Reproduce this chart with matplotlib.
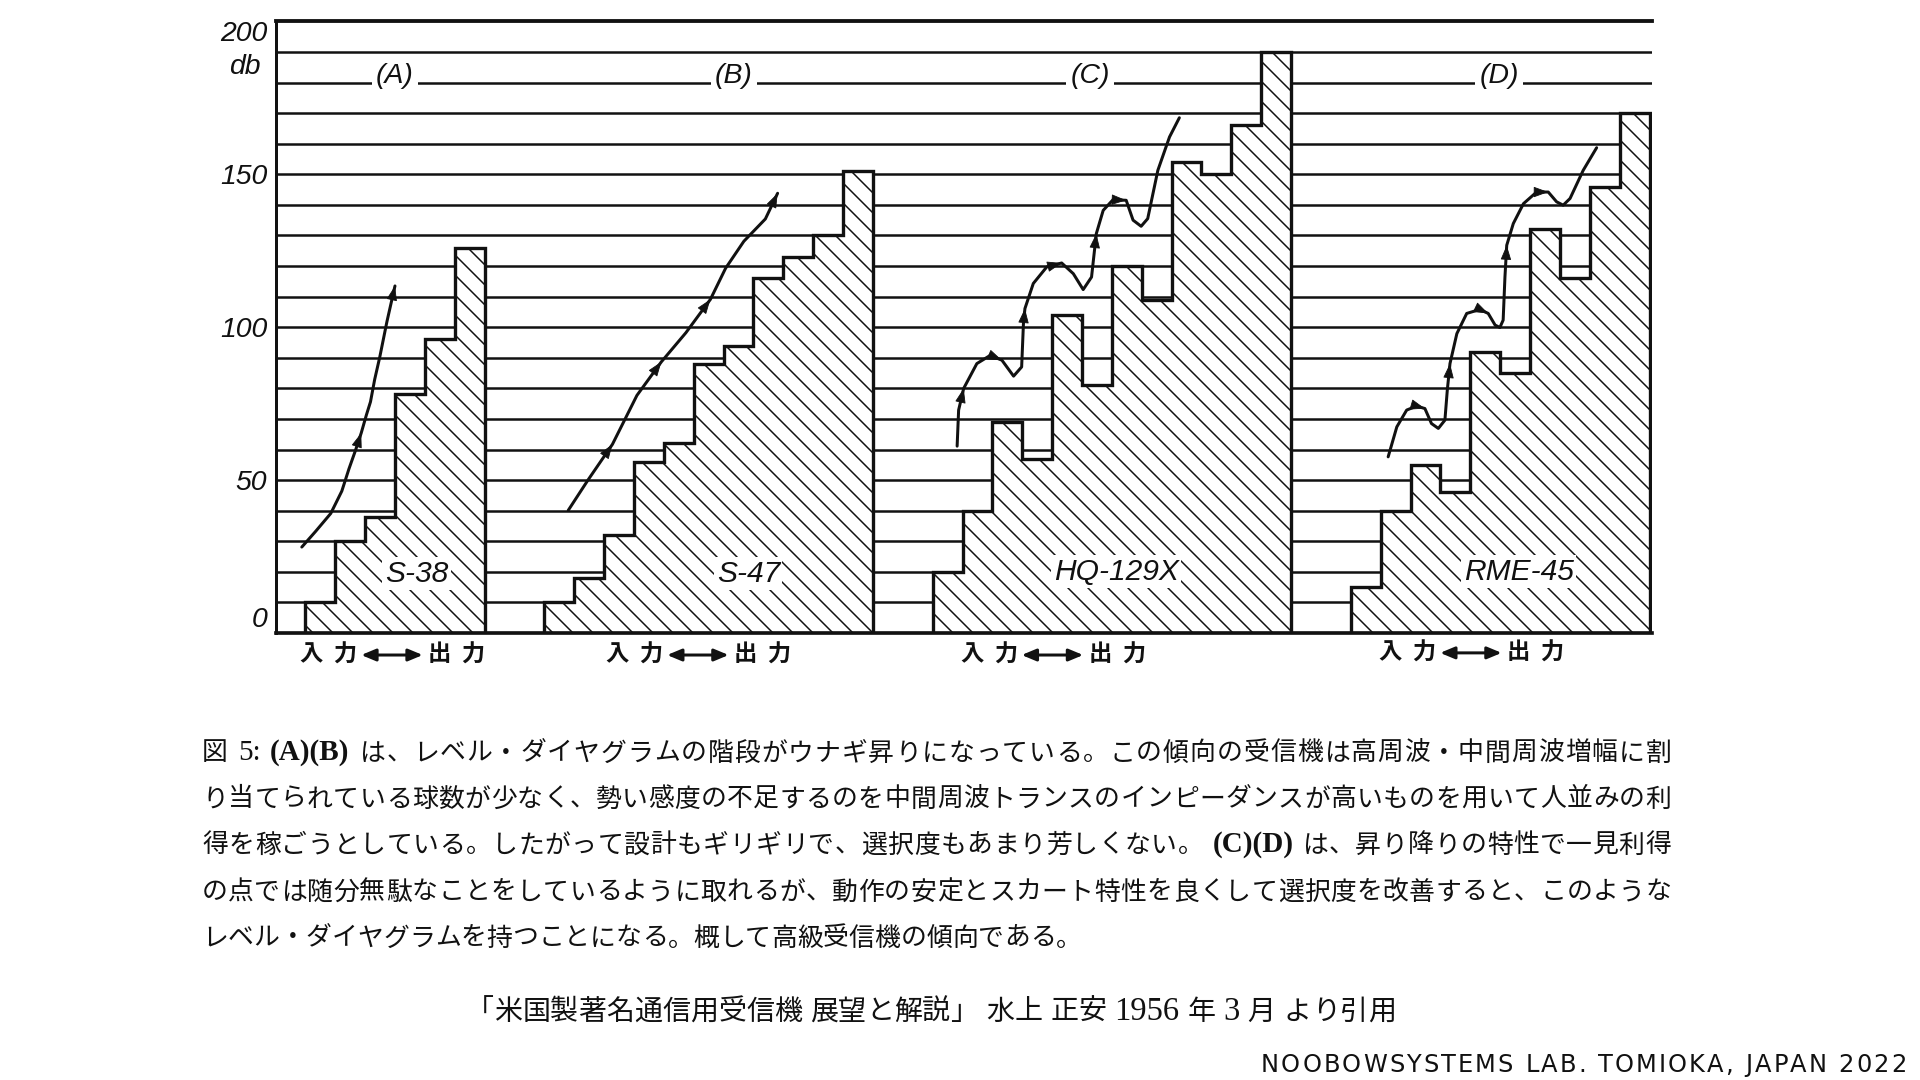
import matplotlib
matplotlib.use('Agg')
import matplotlib.pyplot as plt

plt.rcParams['font.family'] = ['Noto Sans CJK JP', 'DejaVu Sans']
plt.rcParams['hatch.linewidth'] = 0.9

# 段の境界 (段数) と レベル (dB)
a_edges = [1, 2, 3, 4, 5, 6, 7]
a_db = [10, 30, 38, 78, 96, 126]
b_edges = [9, 10, 11, 12, 13, 14, 15, 16, 17, 18, 19, 20]
b_db = [10, 18, 32, 56, 62, 88, 94, 116, 123, 130, 151]
c_edges = [22, 23, 24, 25, 26, 27, 28, 29, 30, 31, 32, 33, 34]
c_db = [20, 40, 69, 57, 104, 81, 120, 109, 154, 150, 166, 190]
d_edges = [36, 37, 38, 39, 40, 41, 42, 43, 44, 45, 46]
d_db = [15, 40, 55, 46, 92, 85, 132, 116, 146, 170]

# 矢印付きの曲線 (読み取り値)
a_cx = [0.88, 1.34, 1.85, 2.22, 2.46, 2.67, 2.87, 3.04, 3.18, 3.32, 3.49, 3.73, 4.0]
a_cy = [28.1, 33.2, 39.1, 46.4, 53.7, 59.5, 65.4, 71.2, 75.6, 82.9, 90.2, 101.8, 113.5]
a_arr = [6, 12]
b_cx = [9.8, 10.46, 11.28, 12.1, 12.92, 13.74, 14.56, 15.07, 15.68, 16.4, 16.81]
b_cy = [40.1, 50, 61.7, 77.7, 88.7, 98.2, 109.1, 119.3, 128.1, 135.4, 143.8]
b_arr = [2, 4, 6, 10]
c_cx = [22.82, 22.87, 23.04, 23.48, 23.93, 24.32, 24.71, 24.98, 25.04, 25.09, 25.37, 25.82, 26.32,
        26.71, 27.04, 27.32, 27.48, 27.71, 28.04, 28.48, 28.71, 28.98, 29.2, 29.54, 29.93, 30.26]
c_cy = [61.1, 72.9, 80, 88.1, 90.8, 89.2, 84, 87, 101.2, 106.1, 114.3, 119.7, 121,
        117.5, 112.3, 116.4, 130.6, 138.2, 141.7, 141.5, 135, 133, 135.5, 151.3, 162.2, 168.5]
c_arr = [2, 5, 9, 12, 16, 19]
d_cx = [37.25, 37.54, 37.87, 38.2, 38.48, 38.7, 38.93, 39.15, 39.23, 39.32, 39.55, 39.88, 40.32, 40.6,
        40.83, 40.99, 41.1, 41.16, 41.22, 41.44, 41.78, 42.22, 42.61, 42.89, 43.11, 43.34, 43.78, 44.23]
d_cy = [57.6, 67.4, 72.9, 74.2, 73.4, 68.5, 66.9, 69.6, 79.4, 88.1, 97.9, 104.5, 105.8, 104.5,
        100.7, 99.9, 102.3, 116.4, 126.8, 133.9, 140.4, 144.2, 144.2, 141, 139.9, 142.1, 151.3, 158.7]
d_arr = [4, 9, 13, 18, 22]

panel_names = ['(A)', '(B)', '(C)', '(D)']
panel_x = [4.0, 15.34, 27.28, 40.96]
models = ['S-38', 'S-47', 'HQ-129X', 'RME-45']
model_x = [4.72, 15.83, 28.15, 41.62]
model_y = [19.4, 19.4, 20, 20]
io_x = [3.9, 14.14, 26.01, 40.02]
io_y = [-7.2, -7.2, -7.2, -6.5]
yticks = [0, 50, 100, 150, 200]

caption = [
    [('図', 'jp'), ('sp',), ('5:', 'serif'), ('sp',), ('(A)(B)', 'bold'), ('sp',),
     ('は、レベル・ダイヤグラムの階段がウナギ昇りになっている。この傾向の受信機は高周波・中間周波増幅に割', 'jp')],
    [('り当てられている球数が少なく、勢い感度の不足するのを中間周波トランスのインピーダンスが高いものを用いて人並みの利', 'jp')],
    [('得を稼ごうとしている。したがって設計もギリギリで、選択度もあまり芳しくない。', 'jp'), ('sp',),
     ('(C)(D)', 'bold'), ('sp',), ('は、昇り降りの特性で一見利得', 'jp')],
    [('の点では随分無駄なことをしているように取れるが、動作の安定とスカート特性を良くして選択度を改善すると、このような', 'jp')],
    [('レベル・ダイヤグラムを持つことになる。概して高級受信機の傾向である。', 'jp')],
]
source = [('「米国製著名通信用受信機', 'jp2'), ('sp',), ('展望と解説」', 'jp2'), ('sp',), ('水上', 'jp2'), ('sp',),
          ('正安', 'jp2'), ('sp',), ('1956', 'serif2'), ('sp',), ('年', 'jp2'), ('sp',), ('3', 'serif2'), ('sp',),
          ('月', 'jp2'), ('sp',), ('より引用', 'jp2')]
footer = 'NOOBOWSYSTEMS LAB. TOMIOKA, JAPAN 2022'

fig = plt.figure(figsize=(16, 9), dpi=120)
ax = fig.add_axes([275.5 / 1920, 447 / 1080, 1377 / 1920, 611.6 / 1080])

# 横線
for v in range(10, 200, 10):
    ax.axhline(v, color='#111', lw=1.5, zorder=1)
ax.axhline(200, color='#111', lw=2.3, zorder=1, clip_on=False)

# 階段 (ハッチング)
for edges, vals in [(a_edges, a_db), (b_edges, b_db), (c_edges, c_db), (d_edges, d_db)]:
    ax.stairs(vals, edges, baseline=0, fill=True, facecolor='white', edgecolor='#111',
              hatch='\\\\', lw=2.0, zorder=2)

# 曲線と矢印
for cx, cy, arr in [(a_cx, a_cy, a_arr), (b_cx, b_cy, b_arr), (c_cx, c_cy, c_arr), (d_cx, d_cy, d_arr)]:
    ax.plot(cx, cy, color='#111', lw=1.8, zorder=4, solid_capstyle='round', solid_joinstyle='round')
    for i in arr:
        ax.annotate('', xy=(cx[i], cy[i]), xytext=(cx[i - 1], cy[i - 1]),
                    arrowprops=dict(arrowstyle='-|>,head_length=0.55,head_width=0.2', color='#111',
                                    lw=0.5, shrinkA=0, shrinkB=0, mutation_scale=14), zorder=5)

lab_font = dict(family='Liberation Sans', style='italic', color='#111')
for name, x in zip(panel_names, panel_x):
    ax.text(x, 180, name, ha='center', va='baseline', fontsize=17, zorder=3,
            bbox=dict(boxstyle='square,pad=0.15', fc='white', ec='none'), **lab_font)
for name, x, y in zip(models, model_x, model_y):
    ax.text(x, y, name, ha='center', va='center', fontsize=18, zorder=3,
            bbox=dict(boxstyle='square,pad=0.08', fc='white', ec='none'), **lab_font)

# 入力 ←→ 出力
for x, y in zip(io_x, io_y):
    ax.annotate('', xy=(x + 1.03, y), xytext=(x - 1.03, y), annotation_clip=False,
                arrowprops=dict(arrowstyle='<|-|>,head_length=0.6,head_width=0.25', color='#111',
                                lw=1.8, shrinkA=0, shrinkB=0, mutation_scale=12))
    ax.text(x - 1.15, y, '入  力', ha='right', va='center', fontsize=14, weight='bold',
            color='#111', clip_on=False)
    ax.text(x + 1.22, y, '出  力', ha='left', va='center', fontsize=14, weight='bold',
            color='#111', clip_on=False)

ax.set_xlim(0, 46.1)
ax.set_ylim(0, 200)
ax.set_xticks([])
ax.set_yticks(yticks)
ax.set_yticklabels([str(v) for v in yticks], fontsize=17, **lab_font)
ax.tick_params(axis='y', length=0, pad=5)
tl = ax.get_yticklabels()
tl[0].set_va('bottom')
tl[-1].set_va('top')
ax.annotate('db', xy=(0, 185), xycoords=('axes fraction', 'data'), xytext=(-9, 0),
            textcoords='offset points', ha='right', va='center', fontsize=17, **lab_font)
for s in ['top', 'right']:
    ax.spines[s].set_visible(False)
ax.spines['left'].set_linewidth(1.8)
ax.spines['bottom'].set_linewidth(2.2)
ax.spines['left'].set_color('#111')
ax.spines['bottom'].set_color('#111')

# キャプション
STY = {
    'jp': dict(family=['Noto Sans CJK JP', 'DejaVu Sans'], fontsize=15.5, color='#111'),
    'serif': dict(family='Liberation Serif', fontsize=17.5, color='#111'),
    'bold': dict(family='Liberation Serif', fontsize=17.5, weight='bold', color='#111'),
    'jp2': dict(family=['Noto Sans CJK JP', 'DejaVu Sans'], fontsize=16.8, color='#111'),
    'serif2': dict(family='Liberation Serif', fontsize=19.5, color='#111'),
    'foot': dict(family='DejaVu Sans', fontsize=14.5, color='#111'),
}
SP = 8 / 1920
renderer = fig.canvas.get_renderer()


def put_tokens(segs, x, y, width=None, ha='left'):
    toks = []
    for seg in segs:
        if seg[0] == 'sp':
            toks.append(None)
        elif seg[1] in ('jp', 'jp2', 'foot'):
            toks += [(ch, seg[1]) for ch in seg[0]]
        else:
            toks.append(seg)
    objs, ws = [], []
    for t in toks:
        if t is None:
            objs.append(None)
            ws.append(SP)
        else:
            o = fig.text(0, y, t[0], va='center', **STY[t[1]])
            objs.append(o)
            ws.append(o.get_window_extent(renderer).width / fig.bbox.width)
    gap = 0
    if width is not None:
        gap = (width - sum(ws)) / (len(ws) - 1)
    total = sum(ws) + gap * (len(ws) - 1)
    x0 = x - total / 2 if ha == 'center' else x
    for o, w in zip(objs, ws):
        if o is not None:
            o.set_x(x0)
        x0 += w + gap


line_y = [753, 799, 845, 892, 938]
for i, (segs, ly) in enumerate(zip(caption, line_y)):
    width = (1671 - 202) / 1920 if i < len(caption) - 1 else None
    put_tokens(segs, 202 / 1920, 1 - ly / 1080, width)

put_tokens(source, 931 / 1920, 1 - 1011.5 / 1080, ha='center')

foot_segs = []
for ch in footer:
    foot_segs.append(('sp',) if ch == ' ' else (ch, 'foot'))
put_tokens(foot_segs, 1261 / 1920, 1 - 1065 / 1080, width=(1906 - 1261) / 1920)

fig.savefig('out.png', dpi=120, facecolor='white')
